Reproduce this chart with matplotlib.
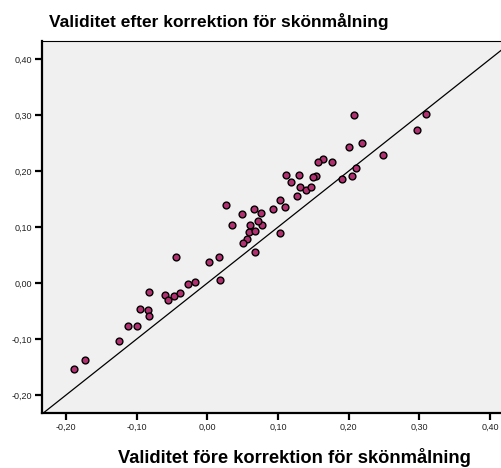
import matplotlib
matplotlib.use("Agg")
import matplotlib.pyplot as plt
from matplotlib.ticker import FuncFormatter

plt.rcParams['font.family'] = ['Liberation Sans', 'DejaVu Sans']

# validitet före (x) och efter (y) korrektion för skönmålning
fore = [0.026, 0.035, 0.049, 0.066, 0.060, 0.059, 0.068, 0.056, 0.051, 0.068,
        -0.044, 0.002, 0.016, 0.018, -0.028, -0.017, -0.083,
        0.207, 0.310, 0.296, 0.200, 0.219, 0.249, 0.210, 0.205, 0.190, 0.176,
        0.163, 0.156, 0.154, 0.149, 0.130, 0.112, 0.118, 0.131, 0.139, 0.147,
        0.127, 0.103, 0.110, 0.093, 0.103, 0.0765, 0.078, 0.072,
        -0.060, -0.055, -0.047, -0.039, -0.095, -0.084, -0.083, -0.112, -0.100,
        -0.125, -0.173, -0.189]
efter = [0.139, 0.104, 0.123, 0.132, 0.104, 0.0905, 0.093, 0.079, 0.071, 0.055,
         0.046, 0.0375, 0.046, 0.005, -0.002, 0.002, -0.016,
         0.2995, 0.302, 0.274, 0.243, 0.250, 0.228, 0.205, 0.192, 0.186, 0.217,
         0.221, 0.2155, 0.192, 0.189, 0.193, 0.1935, 0.180, 0.172, 0.166, 0.171,
         0.155, 0.149, 0.135, 0.132, 0.089, 0.125, 0.104, 0.111,
         -0.021, -0.030, -0.024, -0.017, -0.046, -0.048, -0.059, -0.077, -0.077,
         -0.104, -0.1375, -0.154]

ticks = [-0.2, -0.1, 0.0, 0.1, 0.2, 0.3, 0.4]
xlim = (-0.234, 0.417)
ylim = (-0.233, 0.433)

fig = plt.figure(figsize=(5.02, 4.68), dpi=100)
ax = fig.add_axes([0.0837, 0.1165, 1 - 0.0837, 0.7966])
ax.set_facecolor('#f0f0f0')

# referenslinje y = x
ax.plot([-1, 1], [-1, 1], color='black', lw=0.9, zorder=2)
ax.scatter(fore, efter, s=24, c='#b03070', edgecolors='black', linewidths=1.0, zorder=3)

ax.set_xlim(xlim)
ax.set_ylim(ylim)
ax.set_xticks(ticks)
ax.set_yticks(ticks)
fmt = FuncFormatter(lambda v, p: ('%.2f' % v).replace('.', ','))
ax.xaxis.set_major_formatter(fmt)
ax.yaxis.set_major_formatter(fmt)
ax.tick_params(direction='out', length=5, width=1.6, labelsize=6.5, pad=2, colors='black')
ax.tick_params(labelcolor='#222222')

for s in ['left', 'bottom']:
    ax.spines[s].set_linewidth(1.6)
ax.spines['top'].set_linewidth(0.8)
ax.spines['right'].set_visible(False)

fig.text(0.097, 0.953, 'Validitet efter korrektion för skönmålning',
         fontsize=12.5, fontweight='bold', ha='left', va='center')
fig.text(0.586, 0.022, 'Validitet före korrektion för skönmålning',
         fontsize=13.2, fontweight='bold', ha='center', va='center')

fig.savefig('out.png', dpi=100)
